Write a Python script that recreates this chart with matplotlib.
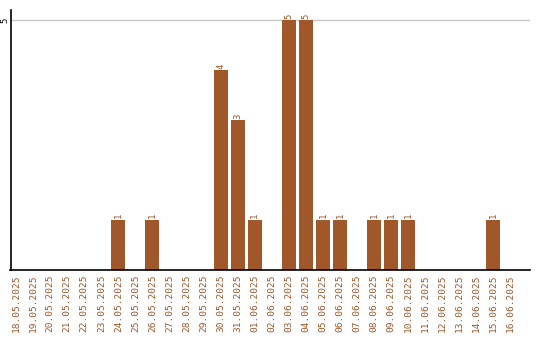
import matplotlib
matplotlib.use("Agg")
import matplotlib.pyplot as plt

dates = ['18.05.2025', '19.05.2025', '20.05.2025', '21.05.2025', '22.05.2025',
         '23.05.2025', '24.05.2025', '25.05.2025', '26.05.2025', '27.05.2025',
         '28.05.2025', '29.05.2025', '30.05.2025', '31.05.2025', '01.06.2025',
         '02.06.2025', '03.06.2025', '04.06.2025', '05.06.2025', '06.06.2025',
         '07.06.2025', '08.06.2025', '09.06.2025', '10.06.2025', '11.06.2025',
         '12.06.2025', '13.06.2025', '14.06.2025', '15.06.2025', '16.06.2025']
counts = [0, 0, 0, 0, 0, 0, 1, 0, 1, 0, 0, 0, 4, 3, 1,
          0, 5, 5, 1, 1, 0, 1, 1, 1, 0, 0, 0, 0, 1, 0]

bar_color = '#a0572a'
mono = 'DejaVu Sans Mono'

fig = plt.figure(figsize=(5.4, 3.4), dpi=100)
ax = fig.add_axes([10.5 / 540, 70 / 340, 519.5 / 540, 260 / 340])

x = list(range(len(dates)))
ax.bar(x, counts, width=0.82, color=bar_color, zorder=2)

# подписи значень над стовпцями
for xi, v in zip(x, counts):
    if v > 0:
        ax.text(xi, v + 0.03, str(v), rotation=90, ha='center', va='bottom',
                fontsize=6.5, family=mono, color=bar_color)

ax.set_xlim(-0.33, 30.15)
ax.set_ylim(0, 5.2)
ax.set_yticks([5])
ax.set_yticklabels(['5'], rotation=90, va='center', fontsize=6.5, family=mono)
ax.yaxis.grid(True, color='#c8c8c8', linewidth=1, zorder=0)
ax.tick_params(axis='y', length=0, pad=0.6)

ax.set_xticks(x)
ax.set_xticklabels(dates, rotation=90, fontsize=6.8, family=mono, color=bar_color)
ax.tick_params(axis='x', length=0, pad=3)

for side in ['top', 'right']:
    ax.spines[side].set_visible(False)
ax.spines['left'].set_color('black')
ax.spines['bottom'].set_color('black')
ax.spines['left'].set_linewidth(1.2)
ax.spines['bottom'].set_linewidth(1.2)

fig.savefig('out.png', dpi=100)
